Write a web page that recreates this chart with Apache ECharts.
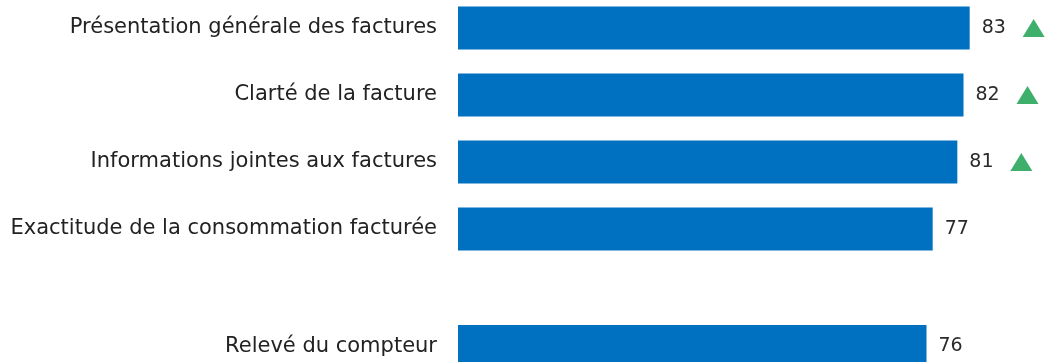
<!DOCTYPE html>
<html>
<head>
<meta charset="utf-8">
<script src="https://cdn.jsdelivr.net/npm/echarts@6/dist/echarts.min.js"></script>
<style>
html,body{margin:0;padding:0;background:#fff;}
#chart{width:1050px;height:362px;}
</style>
</head>
<body>
<div id="chart"></div>
<script>
// Top group of questions
const categoriesTop = [
  'Présentation générale des factures',
  'Clarté de la facture',
  'Informations jointes aux factures',
  'Exactitude de la consommation facturée'
];
const valuesTop = [83, 82, 81, 77];
const trendTop = ['up', 'up', 'up', ''];

// Bottom group
const categoriesBottom = ['Relevé du compteur'];
const valuesBottom = [76];
const trendBottom = [''];

const BLUE = '#0070C0';
const GREEN = '#0E9C47';
const FONT = 'DejaVu Sans';

const chart = echarts.init(document.getElementById('chart'), null, {renderer: 'canvas'});

function yAxis(gridIndex, cats, gap) {
  return {
    type: 'category', gridIndex: gridIndex, data: cats, inverse: true,
    boundaryGap: gap,
    axisLine: {show: false}, axisTick: {show: false}, splitLine: {show: false},
    axisLabel: {fontFamily: FONT, fontSize: 21, color: '#222', margin: 21}
  };
}
function xAxis(gridIndex) {
  return {
    type: 'value', gridIndex: gridIndex, min: 0, max: 85, show: false,
    splitLine: {show: false}
  };
}
function barSeries(idx, vals) {
  return {
    type: 'bar', xAxisIndex: idx, yAxisIndex: idx, data: vals,
    barWidth: 43, itemStyle: {color: BLUE},
    label: {show: true, position: 'right', distance: 12,
      fontFamily: FONT, fontSize: 19, color: '#2a2a2a'},
    silent: true, animation: false
  };
}
function trendSeries(idx, vals, trend) {
  return {
    type: 'scatter', xAxisIndex: idx, yAxisIndex: idx,
    data: vals.map((v, i) => trend[i] === 'up' ? v : '-'),
    symbol: 'triangle', symbolSize: [22, 18], symbolOffset: [64, 0],
    itemStyle: {color: GREEN}, silent: true, animation: false, z: 5
  };
}

chart.setOption({
  animation: false,
  backgroundColor: '#fff',
  grid: [
    {left: 458, width: 524, top: 28, height: 201, outerBoundsMode: 'none'},
    {left: 458, width: 524, top: 313, height: 67, outerBoundsMode: 'none'}
  ],
  xAxis: [xAxis(0), xAxis(1)],
  yAxis: [yAxis(0, categoriesTop, false), yAxis(1, categoriesBottom, true)],
  series: [
    barSeries(0, valuesTop),
    trendSeries(0, valuesTop, trendTop),
    barSeries(1, valuesBottom),
    trendSeries(1, valuesBottom, trendBottom)
  ]
});
</script>
</body>
</html>
